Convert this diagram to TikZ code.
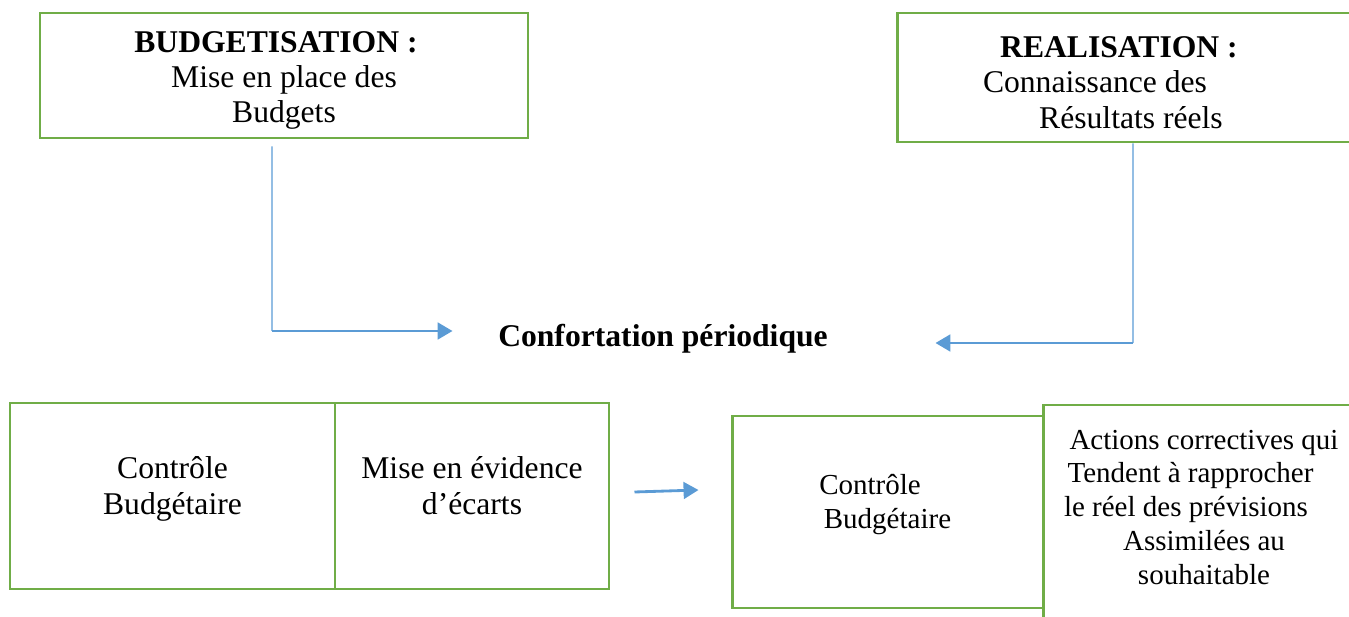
\documentclass[tikz,border=0pt]{standalone}
\usepackage{fontspec}
\setmainfont{Liberation Serif}
\usetikzlibrary{arrows.meta}

\definecolor{vertcadre}{RGB}{112,173,71}
\definecolor{bleufleche}{RGB}{91,155,213}
\newcommand{\decal}[1]{\rule{#1}{0pt}}

\tikzset{
	cadre/.style={draw=vertcadre,line width=1.7pt,align=center,font=\fontsize{18}{20}\selectfont},
	haut/.style={text height=2.03cm},
	bas/.style={text depth=0.42cm},
	petit/.style={font=\fontsize{16.5}{19.2}\selectfont},
	filet/.style={draw=bleufleche,line width=0.8pt},
	fleche/.style={draw=bleufleche,line width=1.6pt,-{Triangle[length=8.5pt,width=9.5pt]}}
}

\begin{document}
\begin{tikzpicture}[
	%baseline,
	scale=1
	]
	\useasboundingbox (0,0) rectangle (26.98,12.32);
	
	\node[cadre,haut,minimum width=9.76cm,minimum height=2.5cm] (budg) at (5.68,10.81) {\textbf{BUDGETISATION :}\decal{0.32cm}\\Mise en place des\\Budgets};
	\node[cadre,haut,minimum width=9.36cm,minimum height=2.58cm] (real) at (22.62,10.77) {\textbf{REALISATION :}\decal{0.48cm}\\Connaissance des\decal{1.44cm}\\Résultats réels};
	
	\node[font=\fontsize{18}{20}\selectfont\bfseries] (conf) at (13.26,5.54) {Confortation périodique};
	
	\node[cadre,bas,minimum width=6.5cm,minimum height=3.72cm] (ctrla) at (3.45,2.4) {Contrôle\\Budgétaire};
	\node[cadre,bas,minimum width=5.48cm,minimum height=3.72cm] (ecarts) at (9.44,2.4) {Mise en évidence\\d’écarts};
	\node[cadre,bas,petit,minimum width=6.22cm,minimum height=3.84cm] (ctrlb) at (17.75,2.08) {Contrôle\decal{0.7cm}\\Budgétaire};
	\node[cadre,bas,petit,minimum width=6.44cm,minimum height=4.5cm] (actions) at (24.08,1.97) {Actions correctives qui\\Tendent à rapprocher\decal{0.54cm}\\le réel des prévisions\decal{0.72cm}\\Assimilées au\\souhaitable};
	
	\coordinate (coinG) at (5.44,5.70);
	\coordinate (coinD) at (22.66,5.46);
	\draw[filet] ([xshift=-0.24cm,yshift=-0.14cm]budg.south) -- (coinG);
	\draw[fleche,shorten >=0.79cm] (coinG) -- (coinG -| conf.west);
	\draw[filet] ([xshift=0.04cm]real.south) -- (coinD);
	\draw[fleche,shorten >=2.03cm] (coinD) -- (coinD -| conf.east);
	\draw[fleche] ([xshift=0.48cm,yshift=0.08cm]ecarts.east) -- ([xshift=-0.64cm,yshift=0.44cm]ctrlb.west);
\end{tikzpicture}
\end{document}
